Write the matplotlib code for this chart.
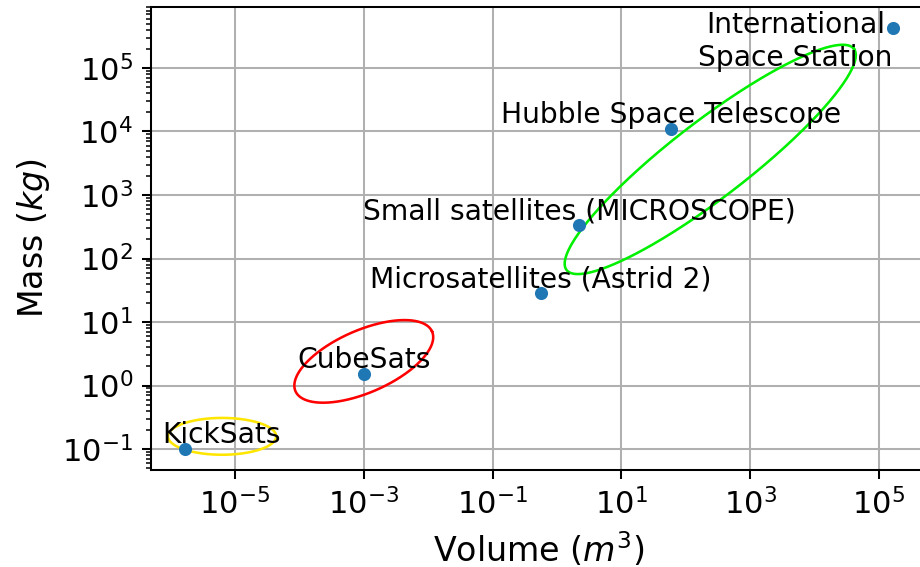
import numpy as np
import matplotlib
matplotlib.use("Agg")
from matplotlib import pyplot as plt

plt.rcParams["font.size"] = 12

# satellites: volume (m^3) and mass (kg)
names = ["KickSats", "CubeSats", "Microsatellites (Astrid 2)",
         "Small satellites (MICROSCOPE)", "Hubble Space Telescope",
         "International\nSpace Station"]
volume = [1.7e-6, 1.0e-3, 0.56, 2.2, 59.0, 1.63e5]
mass = [0.1, 1.5, 28.6, 335.0, 11000.0, 4.2e5]

# label offsets in points and alignment
label_dx = [14, 0, 0, 0, 0, 0]
label_dy = [0, 0, 0, 0, 0, -17]
label_ha = ["center", "center", "center", "center", "center", "right"]

# groups drawn as ellipses in log10 space: centre, semi axes (decades), angle
ell_cx = [-5.2, -3.0, 2.38]
ell_cy = [-0.8, 0.38, 3.56]
ell_a = [0.84, 1.16, 2.83]
ell_b = [0.29, 0.49, 0.60]
ell_ang = [0, 24, 38]
ell_col = ["#ffe600", "#ff0000", "#00f000"]

fig = plt.figure(figsize=(5.0, 567 / 184), dpi=184)
ax = fig.add_axes([151 / 920, 97 / 567, 775 / 920, 463 / 567])
ax.set_xscale("log")
ax.set_yscale("log")
ax.set_xlim(10 ** -6.304, 10 ** 5.73)
ax.set_ylim(10 ** -1.33, 10 ** 5.96)
ax.grid(True, color="#b0b0b0", lw=0.8)
ax.set_axisbelow(True)

ax.scatter(volume, mass, s=17, color="#1f77b4", zorder=3)
for i, name in enumerate(names):
   ax.annotate(name, (volume[i], mass[i]), xytext=(label_dx[i], label_dy[i]),
               textcoords="offset points", ha=label_ha[i], va="bottom",
               multialignment="center", fontsize=11)

t = np.linspace(0, 2 * np.pi, 400)
for cx, cy, a, b, ang, col in zip(ell_cx, ell_cy, ell_a, ell_b, ell_ang, ell_col):
   th = np.radians(ang)
   lx = cx + a * np.cos(t) * np.cos(th) - b * np.sin(t) * np.sin(th)
   ly = cy + a * np.cos(t) * np.sin(th) + b * np.sin(t) * np.cos(th)
   ax.plot(10 ** lx, 10 ** ly, color=col, lw=1)

ax.set_xlabel("Volume ($m^3$)", fontsize=13)
ax.set_ylabel("Mass ($kg$)", fontsize=13)

fig.savefig("out.png", dpi=184)
